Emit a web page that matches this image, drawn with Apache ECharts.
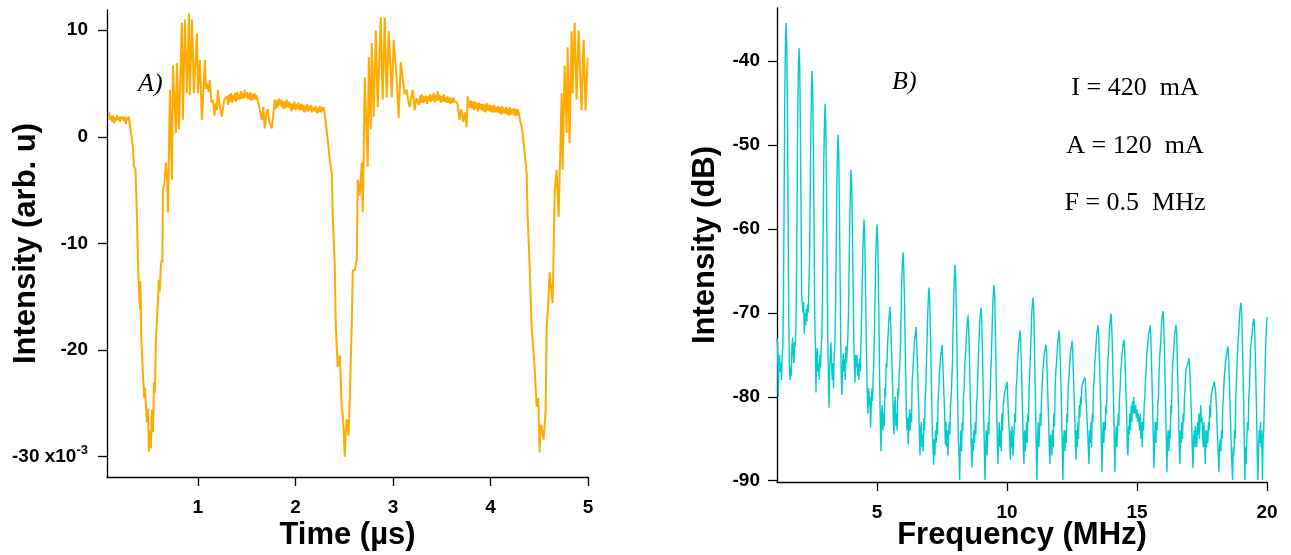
<!DOCTYPE html>
<html>
<head>
<meta charset="utf-8">
<script src="https://cdn.jsdelivr.net/npm/echarts@6/dist/echarts.min.js"></script>
<style>
html,body{margin:0;padding:0;background:#fff;}
#c{width:1291px;height:555px;}
</style>
</head>
<body>
<div id="c"></div>
<script>
// ---- Panel A: time trace (values in units of 1e-3) ----
const timeTicks = [1, 2, 3, 4, 5];
const intensityTicks = [10, 0, -10, -20, -30];
const timeSeries = [
[0.088,2.3],[0.10,1.6],[0.11,2.0],[0.12,1.4],[0.13,2.0],[0.14,1.3],[0.15,1.8],[0.16,1.5],[0.17,2.0],[0.18,1.6],[0.19,1.9],[0.20,1.4],[0.21,1.9],[0.22,1.7],[0.23,1.9],[0.24,1.5],[0.25,1.9],[0.26,1.2],[0.27,1.8],[0.28,1.6],[0.29,1.9],[0.303,1.8],
[0.314,0.4],[0.334,-1.0],[0.345,-2.8],[0.36,-3.0],[0.375,-7.5],[0.385,-11.5],[0.39,-13.1],[0.406,-16.2],[0.41,-13.5],[0.42,-19],[0.436,-22.1],[0.45,-24.5],[0.457,-23.5],[0.477,-26.8],[0.488,-25.5],[0.498,-29.5],[0.51,-27.5],[0.518,-29.2],[0.529,-25.6],[0.539,-27.7],[0.55,-23],[0.559,-24],[0.57,-19],[0.58,-17.2],[0.59,-15.5],[0.600,-13.4],[0.61,-14.5],[0.62,-12],[0.631,-11.5],[0.636,-11.8],[0.641,-5],[0.655,-4.5],[0.672,-2.4],[0.685,-4],[0.693,-7.1],[0.713,4.4],[0.734,-4],[0.744,6.7],[0.775,0.4],[0.785,6.9],[0.805,0.7],[0.836,10.7],[0.846,1.6],[0.867,11.0],[0.887,4.1],[0.908,11.6],[0.918,3.9],[0.939,11.0],[0.959,4.1],[0.990,9.7],[1.000,4.1],[1.020,7.2],[1.041,1.6],[1.072,7.2],[1.082,4.5],[1.092,5.0],[1.11,4.2],[1.123,5.3],[1.14,3.2],[1.154,3.5],[1.17,2.0],[1.185,3.2],[1.195,2.5],[1.205,4.4],[1.225,2.8],[1.246,1.9],[1.27,3.5],[1.297,3.8],
[1.31,3.0],[1.32,4.0],[1.33,3.3],[1.34,4.1],[1.35,3.2],[1.36,3.9],[1.37,3.4],[1.38,4.1],[1.39,3.3],[1.40,4.2],[1.41,3.5],[1.42,4.0],[1.43,3.5],[1.44,4.3],[1.45,3.6],[1.46,4.1],[1.47,3.6],[1.48,4.4],[1.49,3.7],[1.50,4.2],[1.51,3.6],[1.52,4.1],[1.53,3.5],[1.54,4.2],[1.55,3.4],[1.56,4.0],[1.57,3.5],[1.58,4.1],[1.59,3.5],[1.60,3.9],[1.615,3.4],
[1.635,2.5],[1.656,1.6],[1.67,2.8],[1.686,0.8],[1.70,2.2],[1.717,2.6],[1.73,1.5],[1.758,0.8],[1.789,3.5],[1.80,2.6],[1.81,3.4],[1.82,2.8],[1.83,3.6],[1.84,3.0],[1.85,3.5],[1.86,2.8],[1.87,3.4],[1.88,2.6],[1.89,3.3],[1.90,2.7],[1.91,3.5],[1.92,2.8],[1.93,3.3],[1.943,2.7],[1.95,3.2],[1.96,2.4],[1.97,3.1],[1.98,2.6],[1.99,3.3],[2.00,2.5],[2.01,3.1],[2.02,2.6],[2.03,3.2],[2.045,2.5],[2.06,3.1],[2.07,2.5],[2.08,3.0],[2.09,2.3],[2.10,2.9],[2.11,2.4],[2.12,3.1],[2.13,2.4],[2.14,2.9],[2.15,2.5],[2.16,3.0],[2.17,2.3],[2.18,2.8],[2.199,2.4],[2.21,2.9],[2.22,2.2],[2.23,2.7],[2.24,2.3],[2.25,2.9],[2.26,2.3],[2.27,2.8],[2.281,2.4],[2.29,2.8],[2.301,2.1],
[2.332,-0.3],[2.352,-2.2],[2.373,-3.4],[2.383,-7.5],[2.404,-12.2],[2.414,-17.8],[2.434,-21.6],[2.455,-20.5],[2.475,-25.3],[2.49,-26.5],[2.506,-30.0],[2.517,-27.5],[2.527,-26.5],[2.545,-28.0],[2.557,-24.6],[2.578,-17.4],[2.588,-12.5],[2.609,-12.5],[2.629,-11.5],[2.639,-4.0],[2.660,-5.5],[2.680,-2.4],[2.691,-7.1],[2.711,5.6],[2.742,-2.8],[2.752,7.5],[2.773,0.7],[2.783,8.8],[2.803,1.9],[2.824,10.0],[2.844,2.8],[2.875,11.2],[2.895,3.5],[2.916,11.2],[2.936,3.7],[2.957,9.9],[2.988,3.7],[3.008,9.1],[3.039,5.3],[3.059,1.8],[3.080,7.0],[3.100,5.5],[3.12,4.0],[3.141,4.4],[3.16,3.2],[3.172,2.8],[3.19,3.8],[3.203,4.4],[3.223,2.5],[3.24,3.6],[3.254,3.5],
[3.27,3.0],[3.28,3.9],[3.29,3.2],[3.30,4.0],[3.31,3.2],[3.32,3.8],[3.33,3.3],[3.34,3.9],[3.35,3.1],[3.36,3.8],[3.37,3.3],[3.38,4.0],[3.39,3.3],[3.40,3.9],[3.41,3.4],[3.42,4.1],[3.43,3.2],[3.44,3.9],[3.45,3.4],[3.46,4.3],[3.47,3.4],[3.48,3.9],[3.49,3.2],[3.50,3.8],[3.51,3.3],[3.52,4.0],[3.53,3.3],[3.54,3.7],[3.55,3.2],[3.56,3.8],[3.57,3.2],[3.58,3.7],[3.59,3.1],[3.60,3.6],[3.61,3.2],[3.62,3.7],[3.633,3.3],[3.66,3.2],[3.684,1.6],[3.70,2.6],[3.72,1.4],[3.74,2.3],[3.756,0.9],[3.766,3.8],[3.787,2.7],[3.80,3.4],[3.81,2.7],[3.82,3.3],[3.83,2.5],[3.84,3.3],[3.85,2.6],[3.86,3.2],[3.87,2.4],[3.88,3.2],[3.89,2.6],[3.90,3.1],[3.91,2.5],[3.92,3.1],[3.93,2.4],[3.94,3.0],[3.95,2.3],[3.96,3.2],[3.97,2.5],[3.98,3.0],[3.99,2.4],[4.00,3.0],[4.01,2.3],[4.02,2.9],[4.03,2.3],[4.04,3.0],[4.05,2.3],[4.06,2.8],[4.07,2.3],[4.08,2.9],[4.09,2.2],[4.10,2.8],[4.11,2.1],[4.12,2.9],[4.13,2.2],[4.14,2.7],[4.15,2.2],[4.16,2.8],[4.17,2.1],[4.18,2.7],[4.19,2.0],[4.20,2.8],[4.21,2.1],[4.22,2.6],[4.23,2.1],[4.24,2.7],[4.25,2.0],[4.26,2.6],[4.27,2.0],[4.28,2.6],[4.29,2.2],[4.299,2.1],
[4.330,0.4],[4.350,-1.5],[4.371,-3.4],[4.381,-7.5],[4.402,-12.2],[4.422,-17.8],[4.453,-21.6],[4.473,-25.3],[4.49,-24.5],[4.504,-29.6],[4.515,-27.0],[4.525,-27.2],[4.545,-28.4],[4.566,-25.6],[4.576,-17.8],[4.59,-16],[4.607,-12.7],[4.637,-15.6],[4.645,-12.0],[4.658,-5.2],[4.678,-3.1],[4.699,-7.5],[4.730,4.1],[4.740,-3.1],[4.760,6.7],[4.781,0.4],[4.791,8.4],[4.811,-0.6],[4.832,9.9],[4.842,4.1],[4.863,10.7],[4.883,3.5],[4.904,10.0],[4.934,2.5],[4.955,9.1],[4.975,2.5],[4.996,7.4]
];

// ---- Panel B: spectrum (MHz, dB) ----
const freqTicks = [5, 10, 15, 20];
const dbTicks = [-40, -50, -60, -70, -80, -90];
const spectrum = [
[1.15,-73],[1.175,-74],[1.2,-80],[1.225,-76],[1.25,-75],[1.275,-77],[1.3,-76],[1.325,-78],[1.35,-75],[1.375,-74],
[1.4,-68],[1.45,-44],[1.475,-38],[1.5,-35.5],[1.525,-38],[1.55,-45],[1.6,-70],
[1.625,-76],[1.65,-78],[1.675,-76.5],[1.7,-77.5],[1.725,-74],[1.75,-73],[1.775,-75],[1.8,-76],[1.825,-73.5],[1.85,-74],[1.875,-72],
[1.9,-66],[1.95,-46],[1.975,-40.5],[2.0,-38.5],[2.025,-41],[2.05,-48],[2.1,-68],
[2.125,-69],[2.15,-70],[2.175,-68.7],[2.2,-72.5],[2.225,-70],[2.25,-71.5],[2.275,-69.5],[2.3,-71],[2.325,-69],[2.35,-70],[2.375,-67],
[2.4,-64],[2.45,-49],[2.475,-43.5],[2.5,-41.2],[2.525,-43.5],[2.55,-50],[2.6,-70],
[2.625,-74],[2.65,-79.5],[2.675,-75],[2.7,-74.2],[2.725,-77],[2.75,-76],[2.775,-78],[2.8,-75],[2.825,-76.5],[2.85,-74],[2.875,-73],
[2.9,-68],[2.95,-52],[2.975,-47.5],[3.0,-45.1],[3.025,-47.5],[3.05,-54],[3.1,-72],
[3.125,-77],[3.15,-81.3],[3.175,-77],[3.2,-75],[3.225,-73.5],[3.25,-76],[3.275,-78],[3.3,-76],[3.325,-79],[3.35,-75],[3.375,-74],
[3.4,-70],[3.45,-56],[3.475,-51],[3.5,-48.8],[3.525,-51],[3.55,-57],[3.6,-73],
[3.625,-78],[3.65,-79.8],[3.675,-76],[3.7,-74.8],[3.725,-77],[3.75,-75.5],[3.775,-78],[3.8,-74],[3.825,-76],[3.85,-74.5],[3.875,-73],
[3.9,-70],[3.95,-59],[3.975,-55],[4.0,-53],[4.025,-55],[4.05,-60],[4.1,-72],
[4.125,-76],[4.15,-78.3],[4.175,-75],[4.2,-76.5],[4.225,-75],[4.25,-77.5],[4.275,-76],[4.3,-78],[4.325,-75.5],[4.35,-77],[4.375,-74],
[4.4,-71],[4.45,-63],[4.475,-60.5],[4.5,-58.9],[4.525,-61],[4.55,-66],[4.6,-76],
[4.625,-80],[4.65,-82],[4.675,-79],[4.7,-81],[4.725,-80],[4.75,-83.7],[4.775,-81],[4.8,-79],[4.825,-80.5],[4.85,-77.5],[4.875,-76],
[4.9,-72],[4.95,-63],[4.975,-61],[5.0,-59.5],[5.025,-61.5],[5.05,-66],[5.1,-78],
[5.125,-83],[5.15,-86.5],[5.175,-82],[5.2,-81],[5.225,-84],[5.25,-82],[5.275,-83.5],[5.3,-79],[5.325,-80],[5.35,-76],[5.375,-76.5],
[5.4,-74],[5.45,-71],[5.475,-70],[5.5,-69.3],[5.525,-71.5],[5.55,-74],[5.6,-79],
[5.625,-83],[5.65,-84.5],[5.675,-81],[5.7,-80],[5.725,-83.5],[5.75,-82],[5.775,-84],[5.8,-79],[5.825,-80],[5.85,-77.5],[5.875,-76],
[5.9,-74],[5.95,-66],[5.975,-64],[6.0,-62.8],[6.025,-64.5],[6.05,-68],[6.1,-77],
[6.125,-82],[6.15,-84],[6.175,-82.5],[6.2,-85.7],[6.225,-83],[6.25,-81.5],[6.275,-84],[6.3,-82],[6.325,-83],[6.35,-78],[6.375,-77],
[6.4,-75.5],[6.45,-73],[6.475,-72.5],[6.5,-71.7],[6.525,-73.5],[6.55,-76],[6.6,-81],
[6.625,-84],[6.65,-87],[6.675,-84],[6.7,-83],[6.725,-86],[6.75,-84.5],[6.775,-86.5],[6.8,-82.5],[6.825,-84],[6.85,-80],[6.875,-79],
[6.9,-76],[6.95,-70],[6.975,-68],[7.0,-67],[7.025,-68.5],[7.05,-72],[7.1,-80],
[7.125,-84],[7.15,-86],[7.175,-88.1],[7.2,-85],[7.225,-87],[7.25,-84],[7.275,-85.5],[7.3,-83],[7.325,-84.5],[7.35,-80],[7.375,-79],
[7.4,-77],[7.45,-75],[7.475,-74.5],[7.5,-73.8],[7.525,-75.5],[7.55,-78],[7.6,-82],
[7.625,-85.7],[7.65,-83],[7.675,-86],[7.7,-84],[7.725,-87],[7.75,-85],[7.775,-83],[7.8,-84.5],[7.825,-81],[7.85,-80],[7.875,-78],
[7.9,-76],[7.95,-68],[7.975,-65.5],[8.0,-64.3],[8.025,-66],[8.05,-70],[8.1,-80],
[8.125,-85],[8.15,-87],[8.175,-89.9],[8.2,-86],[8.225,-84],[8.25,-86.5],[8.275,-83],[8.3,-84],[8.325,-80],[8.35,-79],[8.375,-76],
[8.4,-75],[8.45,-72],[8.475,-71],[8.5,-70.3],[8.525,-72],[8.55,-75],[8.6,-82],
[8.625,-86],[8.65,-88.4],[8.675,-85],[8.7,-86.5],[8.725,-84],[8.75,-85.5],[8.775,-83],[8.8,-84.5],[8.825,-81],[8.85,-80],[8.875,-77],
[8.9,-75],[8.95,-71],[8.975,-70],[9.0,-69.4],[9.025,-70.5],[9.05,-74],[9.1,-82],
[9.125,-86],[9.15,-89.9],[9.175,-86],[9.2,-84],[9.225,-87],[9.25,-85],[9.275,-83],[9.3,-84.5],[9.325,-81],[9.35,-80],[9.375,-77],
[9.4,-75],[9.45,-69],[9.475,-67.5],[9.5,-66.7],[9.525,-68],[9.55,-72],[9.6,-81],
[9.625,-85],[9.65,-88],[9.675,-85],[9.7,-83],[9.725,-86],[9.75,-84],[9.775,-86.5],[9.8,-82],[9.825,-84],[9.85,-81],[9.875,-80.5],
[9.9,-79.5],[9.95,-79],[9.975,-78.5],[10.0,-78.2],[10.025,-80],[10.05,-82],[10.1,-85],
[10.125,-87.5],[10.15,-84],[10.175,-86],[10.2,-83.5],[10.225,-87],[10.25,-85],[10.275,-84],[10.3,-82],[10.325,-83],[10.35,-79],[10.375,-78],
[10.4,-76],[10.45,-73.5],[10.475,-72.8],[10.5,-72.1],[10.525,-73.5],[10.55,-76],[10.6,-82],
[10.625,-86],[10.65,-88],[10.675,-84],[10.7,-86.5],[10.725,-85],[10.75,-83],[10.775,-85.5],[10.8,-82],[10.825,-83],[10.85,-79],[10.875,-77],
[10.9,-75],[10.95,-70],[10.975,-69],[11.0,-68.2],[11.025,-69.5],[11.05,-73],[11.1,-82],
[11.125,-86],[11.15,-89.9],[11.175,-85],[11.2,-83],[11.225,-86],[11.25,-84],[11.275,-82],[11.3,-83.5],[11.325,-80],[11.35,-79],[11.375,-77],
[11.4,-76],[11.45,-74.5],[11.475,-74.2],[11.5,-73.8],[11.525,-75],[11.55,-78],[11.6,-83],
[11.625,-86],[11.65,-88],[11.675,-84.5],[11.7,-85],[11.725,-87],[11.75,-84],[11.775,-86],[11.8,-82],[11.825,-83.5],[11.85,-79],[11.875,-77],
[11.9,-76],[11.95,-73.5],[11.975,-72.8],[12.0,-72.1],[12.025,-73.5],[12.05,-76],[12.1,-82],
[12.125,-86],[12.15,-89.9],[12.175,-85],[12.2,-84],[12.225,-86.5],[12.25,-84],[12.275,-85.5],[12.3,-82],[12.325,-83],[12.35,-79],[12.375,-78],
[12.4,-76.5],[12.45,-74.5],[12.475,-74],[12.5,-73.3],[12.525,-74.5],[12.55,-77],[12.6,-82],
[12.625,-85],[12.65,-87.5],[12.675,-84],[12.7,-86],[12.725,-83],[12.75,-85],[12.775,-81],[12.8,-82.5],[12.825,-80],[12.85,-81],[12.875,-79],
[12.9,-78.5],[12.95,-78],[12.975,-77.8],[13.0,-77.7],[13.025,-79],[13.05,-81],[13.1,-84],
[13.125,-86],[13.15,-88],[13.175,-84],[13.2,-85.5],[13.225,-83],[13.25,-86],[13.275,-82],[13.3,-83],[13.325,-79],[13.35,-78],[13.375,-76],
[13.4,-75],[13.45,-72.5],[13.475,-72],[13.5,-71.5],[13.525,-72.5],[13.55,-75],[13.6,-81],
[13.625,-85],[13.65,-89],[13.675,-85],[13.7,-83],[13.725,-85.5],[13.75,-83],[13.775,-84],[13.8,-81],[13.825,-82],[13.85,-78],[13.875,-76],
[13.9,-74.5],[13.95,-71.5],[13.975,-70.8],[14.0,-70.1],[14.025,-71.5],[14.05,-74],[14.1,-81],
[14.125,-85],[14.15,-89],[14.175,-85],[14.2,-83.5],[14.225,-86],[14.25,-84],[14.275,-82],[14.3,-83.5],[14.325,-80],[14.35,-79],[14.375,-77],
[14.4,-76],[14.45,-74],[14.475,-73.6],[14.5,-73.2],[14.525,-74.5],[14.55,-77],[14.6,-82],
[14.625,-86],[14.65,-87],[14.675,-83.5],[14.7,-84.5],[14.725,-82],[14.75,-84],[14.775,-81],[14.8,-83],[14.825,-80.5],[14.85,-82],[14.875,-80],
[14.9,-82],[14.95,-81],[14.975,-82.5],[15.0,-81.5],[15.025,-83],[15.05,-82],[15.1,-84],
[15.125,-82],[15.15,-85],[15.175,-83],[15.2,-86],[15.225,-83],[15.25,-84],[15.275,-81],[15.3,-80],[15.325,-78],[15.35,-77],[15.375,-75],
[15.4,-74],[15.45,-72.5],[15.475,-72],[15.5,-71.5],[15.525,-72.5],[15.55,-75],[15.6,-81],
[15.625,-85],[15.65,-88.5],[15.675,-85],[15.7,-83],[15.725,-85.5],[15.75,-83],[15.775,-84],[15.8,-81],[15.825,-80],[15.85,-77],[15.875,-75],
[15.9,-74],[15.95,-71],[15.975,-70.3],[16.0,-69.8],[16.025,-71],[16.05,-74],[16.1,-81],
[16.125,-85],[16.15,-89],[16.175,-85],[16.2,-84],[16.225,-86.5],[16.25,-84],[16.275,-85],[16.3,-81],[16.325,-82],[16.35,-78],[16.375,-76],
[16.4,-75],[16.45,-72.5],[16.475,-72],[16.5,-71.4],[16.525,-72.5],[16.55,-75.5],[16.6,-82],
[16.625,-86],[16.65,-88],[16.675,-84],[16.7,-85.5],[16.725,-83],[16.75,-85],[16.775,-82],[16.8,-83],[16.825,-80],[16.85,-79],[16.875,-77],
[16.9,-77],[16.95,-76],[16.975,-75.7],[17.0,-75.4],[17.025,-76.5],[17.05,-78.5],[17.1,-83],
[17.125,-86],[17.15,-88.5],[17.175,-85],[17.2,-84],[17.225,-86],[17.25,-83.5],[17.275,-85],[17.3,-86],[17.325,-83],[17.35,-84.5],[17.375,-82],[17.4,-85],[17.425,-83],[17.45,-81],[17.475,-83],[17.5,-82.5],[17.525,-85],[17.55,-86],[17.575,-83],[17.6,-85],[17.625,-88],[17.65,-84],[17.675,-86],[17.7,-84],[17.725,-85.5],[17.75,-83],[17.775,-84],[17.8,-81],[17.825,-82.5],[17.85,-80],[17.875,-79.5],
[17.9,-79],[17.95,-78.5],[17.975,-78.2],[18.0,-78],[18.025,-79.5],[18.05,-81],[18.1,-85],
[18.125,-87],[18.15,-89],[18.175,-86],[18.2,-85],[18.225,-86.5],[18.25,-84],[18.275,-85],[18.3,-81],[18.325,-80],[18.35,-78],[18.375,-77],
[18.4,-76],[18.45,-74.8],[18.475,-74.4],[18.5,-74],[18.525,-75.5],[18.55,-78],[18.6,-83],
[18.625,-86],[18.65,-88],[18.675,-89.9],[18.7,-86],[18.725,-87],[18.75,-84],[18.775,-85],[18.8,-80],[18.825,-78],[18.85,-76],[18.875,-74],
[18.9,-73],[18.95,-70],[18.975,-69.3],[19.0,-68.8],[19.025,-70],[19.05,-73],[19.1,-80],
[19.125,-85],[19.15,-89.9],[19.175,-86],[19.2,-88],[19.225,-85],[19.25,-83],[19.275,-84],[19.3,-80],[19.325,-79],[19.35,-76],[19.375,-74],
[19.4,-73.5],[19.45,-71.5],[19.475,-71],[19.5,-70.7],[19.525,-72],[19.55,-75],[19.6,-82],
[19.625,-87],[19.65,-89.9],[19.675,-86],[19.7,-84],[19.725,-85.5],[19.75,-83],[19.775,-86],[19.8,-84],[19.825,-89.9],[19.85,-85],[19.875,-84],[19.9,-80],[19.95,-74],[19.975,-72],[20.0,-70.5]
];

const paramLines = ['I = 420  mA', 'A = 120  mA', 'F = 0.5  MHz'];
const panelLabels = ['A)', 'B)'];

const chart = echarts.init(document.getElementById('c'), null, {renderer: 'canvas'});
const SANS = '"Liberation Sans", Arial, sans-serif';
const SERIF = '"Liberation Serif", "Times New Roman", serif';
const tickLabel = {fontFamily: SANS, fontWeight: 'bold', fontSize: 19, color: '#000'};
const nameStyle = {fontFamily: SANS, fontWeight: 'bold', fontSize: 31, color: '#000'};
const axLine = {show: true, onZero: false, lineStyle: {color: '#000', width: 1.3}};
const axTick = (vals) => ({show: true, inside: false, length: 9, customValues: vals, lineStyle: {color: '#000', width: 1.3}});

chart.setOption({
  animation: false,
  backgroundColor: '#fff',
  grid: [
    {left: 107, top: 10, width: 481, height: 467, containLabel: false, outerBoundsMode: 'none'},
    {left: 777, top: 8, width: 490, height: 474, containLabel: false, outerBoundsMode: 'none'}
  ],
  xAxis: [
    {gridIndex: 0, type: 'value', min: 0.068, max: 5,
     axisLine: axLine, axisTick: axTick(timeTicks), splitLine: {show: false},
     axisLabel: Object.assign({margin: 21, customValues: timeTicks, formatter: v => String(Math.round(v))}, tickLabel),
     name: 'Time (µs)', nameLocation: 'middle', nameGap: 43, nameMoveOverlap: false, nameTextStyle: nameStyle},
    {gridIndex: 1, type: 'value', min: 1.15, max: 20,
     axisLine: axLine, axisTick: axTick(freqTicks), splitLine: {show: false},
     axisLabel: Object.assign({margin: 21, customValues: freqTicks, formatter: v => String(Math.round(v))}, tickLabel),
     name: 'Frequency (MHz)', nameLocation: 'middle', nameGap: 38, nameMoveOverlap: false, nameTextStyle: nameStyle}
  ],
  yAxis: [
    {gridIndex: 0, type: 'value', min: -31.9, max: 11.9,
     axisLine: axLine, axisTick: axTick(intensityTicks), splitLine: {show: false},
     axisLabel: Object.assign({margin: 19, customValues: intensityTicks,
       formatter: v => Math.round(v) === -30 ? '-30 x10{sup|-3}' : String(Math.round(v)),
       rich: {sup: {fontFamily: SANS, fontWeight: 'bold', fontSize: 13, color: '#000', verticalAlign: 'top', padding: [0,0,12,0]}}
     }, tickLabel),
     name: 'Intensity (arb. u)', nameLocation: 'middle', nameGap: 65, nameMoveOverlap: false, nameTextStyle: nameStyle},
    {gridIndex: 1, type: 'value', min: -90.15, max: -33.7,
     axisLine: axLine, axisTick: axTick(dbTicks), splitLine: {show: false},
     axisLabel: Object.assign({margin: 17, customValues: dbTicks, formatter: v => String(Math.round(v))}, tickLabel),
     name: 'Intensity (dB)', nameLocation: 'middle', nameGap: 56, nameMoveOverlap: false, nameTextStyle: nameStyle}
  ],
  series: [
    {type: 'line', xAxisIndex: 0, yAxisIndex: 0, data: timeSeries, showSymbol: false,
     lineStyle: {color: '#FFAA00', width: 2}, itemStyle: {color: '#FFAA00'}},
    {type: 'line', xAxisIndex: 1, yAxisIndex: 1, data: spectrum, showSymbol: false,
     lineStyle: {color: '#00CCCC', width: 1.4}, itemStyle: {color: '#00CCCC'}}
  ],
  graphic: [
    {type: 'text', left: 138, top: 71, style: {text: panelLabels[0], font: 'italic 26px ' + SERIF, fill: '#000'}},
    {type: 'text', left: 892, top: 69, style: {text: panelLabels[1], font: 'italic 26px ' + SERIF, fill: '#000'}},
    {type: 'text', x: 1135, y: 88, style: {text: paramLines[0], font: '26px ' + SERIF, fill: '#000', textAlign: 'center', textVerticalAlign: 'middle'}},
    {type: 'text', x: 1135, y: 146, style: {text: paramLines[1], font: '26px ' + SERIF, fill: '#000', textAlign: 'center', textVerticalAlign: 'middle'}},
    {type: 'text', x: 1135, y: 203, style: {text: paramLines[2], font: '26px ' + SERIF, fill: '#000', textAlign: 'center', textVerticalAlign: 'middle'}}
  ]
});
</script>
</body>
</html>
